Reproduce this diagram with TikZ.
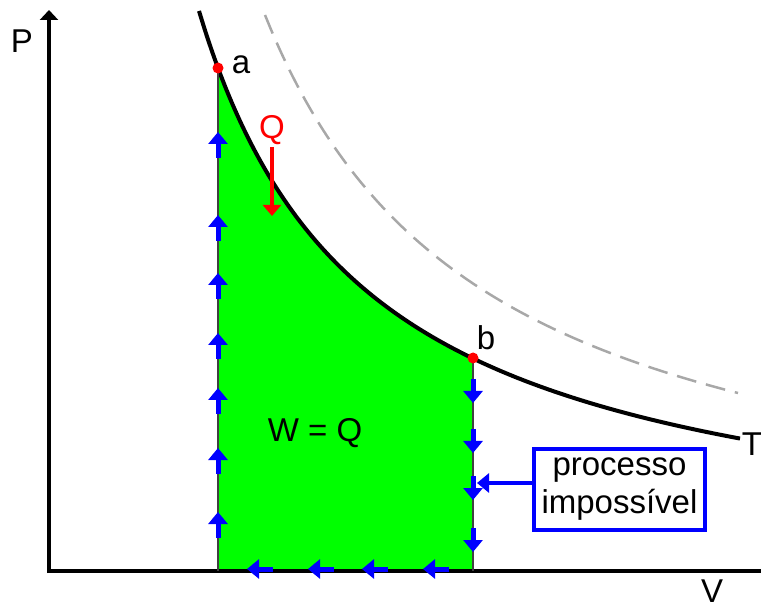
\documentclass[tikz,border=0pt]{standalone}
\usepackage{fontspec}
\setmainfont{Liberation Sans}
\usetikzlibrary{arrows.meta,positioning}
\definecolor{areagreen}{HTML}{00FF00}
\definecolor{cycleblue}{HTML}{0000FF}
\definecolor{heatred}{HTML}{FF0000}
\definecolor{dashgray}{HTML}{A8A8A8}
\definecolor{wallgray}{HTML}{404040}
\tikzset{
  axis/.style={-{Triangle[width=18pt,length=10pt]},draw=black,line width=4pt},
  isotherm/.style={draw=black,line width=4pt,line join=round},
  hotter/.style={draw=dashgray,line width=2.5pt,dash pattern=on 20pt off 10pt},
  wall/.style={draw=wallgray,line width=1.5pt},
  cyclearrow/.style={-{Triangle[width=19pt,length=12pt]},draw=cycleblue,line width=5pt},
  heatarrow/.style={-{Triangle[width=18pt,length=11pt]},draw=heatred,line width=4pt},
  endpoint/.style={circle,fill=heatred,inner sep=0pt,minimum size=11pt},
  lbl/.style={inner sep=0pt,font=\fontsize{33}{38}\selectfont},
  notebox/.style={
    draw=cycleblue,line width=4pt,fill=white,
    minimum width=171pt,minimum height=81pt,
    align=center,inner sep=0pt,font=\fontsize{33}{38}\selectfont
  }
}

\begin{document}
\begin{tikzpicture}[x=1pt,y=-1pt]
\useasboundingbox (0,0) rectangle (761,612);

% area under the isotherm between a and b
\fill[areagreen] (218,571)
  -- plot[domain=218:473,samples=60,smooth] (\x,{571-938.6/((\x-31.4)/100)})
  -- (473,571) -- cycle;

% isotherms
\draw[hotter] plot[domain=265:738,samples=60,smooth] (\x,{571-1238.21/((\x-42.3)/100)});
\draw[isotherm] plot[domain=199:740,samples=80,smooth] (\x,{571-938.6/((\x-31.4)/100)});

% axes
\draw[axis] (49,573) -- (49,10);
\draw[draw=black,line width=4pt] (47,571) -- (761,571);

\coordinate (a) at (218,68);
\coordinate (b) at (473,358);

% vertical walls of the cycle
\draw[wall] (a) -- (218,571);
\draw[wall] (b) -- (473,571);

% cycle arrows
\foreach \y in {132,215,273,333,388,448,512}
  \draw[cyclearrow] (218,\y+26) -- (218,\y);
\foreach \y in {403,453,500,552}
  \draw[cyclearrow] (473,\y-24) -- (473,\y);
\foreach \x in {247,308,362,423}
  \draw[cyclearrow] (\x+26,569) -- (\x,569);

\node[endpoint] at (a) {};
\node[endpoint] at (b) {};

% labels
\node[lbl] (plabel) at (22,41) {P};
\node[lbl] (vlabel) at (712,591) {V};
\node[lbl] (alabel) at (241,65) {a};
\node[lbl] (blabel) at (486,338) {b};
\node[lbl] (tlabel) at (752,444) {T};
\node[lbl] (work) at (315,433) {W = Q};

% heat in
\node[lbl,text=heatred] (heat) at (272,130) {Q};
\coordinate (heattip) at (272,216);
\draw[heatarrow] (272,147) -- (heattip);

% note
\node[notebox] (note) at (619.5,489.5) {processo\\impossível};
\coordinate (notetip) at (477,483);
\draw[cyclearrow,line width=4pt] (note.west |- notetip) -- (notetip);
\end{tikzpicture}
\end{document}
